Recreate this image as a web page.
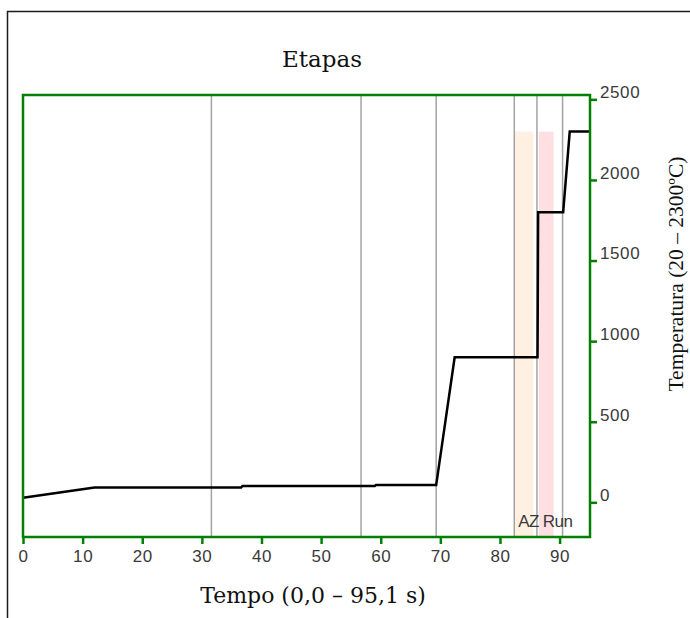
<!DOCTYPE html>
<html>
<head>
<meta charset="utf-8">
<script src="https://cdn.jsdelivr.net/npm/d3@7"></script>
<style>
	body { margin: 0; background: #fff; }
	#chart { width: 690px; height: 618px; }
	.tick-label { font-family: 'Liberation Sans', Arial, sans-serif; font-size: 17px; fill: #3a3a3a; }
	.tick .tick-label { letter-spacing: 0.6px; }
	.title { font-family: 'DejaVu Serif', serif; fill: #111; }
</style>
</head>
<body>
<div id="chart"></div>
<script>
// temperature profile (time in s, temperature in C)
const tempoSeries = [0, 12, 36.6, 36.8, 59.0, 59.2, 69.3, 72.4, 86.3, 86.4, 90.6, 91.7, 95.1];
const temperaturaSeries = [28, 92, 92, 101, 101, 107, 107, 900, 900, 1800, 1800, 2300, 2300];

// stage boundaries (s)
const etapas = [31.6, 56.7, 69.3, 82.4, 86.2, 90.5];

// highlighted stages
const faixaNomes = ['AZ', 'Run'];
const faixaInicio = [82.4, 86.5];
const faixaFim = [85.6, 89.0];
const faixaTopo = [2300, 2300];
const faixaCores = ['#fff0e1', '#ffdfe2'];

const xTicks = [0, 10, 20, 30, 40, 50, 60, 70, 80, 90];
const yTicks = [0, 500, 1000, 1500, 2000, 2500];

const xDomain = [0, 95.1];
const yDomain = [-215, 2527];

const margin = { top: 95, right: 100, bottom: 81, left: 23 };
const width = 690;
const height = 618;
const green = '#008000';

const svg = d3
	.select('#chart')
	.append('svg')
	.attr('width', width)
	.attr('height', height);

const x = d3
	.scaleLinear()
	.domain(xDomain)
	.range([margin.left, width - margin.right]);

const y = d3
	.scaleLinear()
	.domain(yDomain)
	.range([height - margin.bottom, margin.top]);

// outer frame (top and left only)
svg
	.append('path')
	.attr('d', `M7.5,${height} V11.5 H${width}`)
	.attr('fill', 'none')
	.attr('stroke', '#1a1a1a')
	.attr('stroke-width', 1.5);

svg
	.append('text')
	.attr('class', 'title')
	.attr('x', 322)
	.attr('y', 67)
	.attr('text-anchor', 'middle')
	.style('font-size', '23px')
	.text('Etapas');

// stage bands
const faixas = faixaNomes.map((n, i) => ({
	nome: n,
	inicio: faixaInicio[i],
	fim: faixaFim[i],
	topo: faixaTopo[i],
	cor: faixaCores[i],
}));

svg
	.selectAll('.faixa')
	.data(faixas)
	.join('rect')
	.attr('class', 'faixa')
	.attr('x', (d) => x(d.inicio))
	.attr('width', (d) => x(d.fim) - x(d.inicio))
	.attr('y', (d) => y(d.topo))
	.attr('height', (d) => y.range()[0] - y(d.topo))
	.attr('fill', (d) => d.cor);

// stage lines
svg
	.selectAll('.etapa')
	.data(etapas)
	.join('line')
	.attr('class', 'etapa')
	.attr('x1', (d) => x(d))
	.attr('x2', (d) => x(d))
	.attr('y1', margin.top)
	.attr('y2', height - margin.bottom)
	.attr('stroke', '#a3a3a3')
	.attr('stroke-width', 1.5);

// stage labels
svg
	.selectAll('.faixa-label')
	.data(faixas)
	.join('text')
	.attr('class', 'tick-label')
	.attr('x', (d) => x(d.inicio) + 4)
	.attr('y', 527)
	.style('letter-spacing', '-0.5px')
	.text((d) => d.nome);

// temperature line
const pontos = tempoSeries.map((t, i) => ({ t: t, v: temperaturaSeries[i] }));

svg
	.append('path')
	.datum(pontos)
	.attr('fill', 'none')
	.attr('stroke', '#000')
	.attr('stroke-width', 2.5)
	.attr(
		'd',
		d3
			.line()
			.x((d) => x(d.t))
			.y((d) => y(d.v))
	);

// plot frame
svg
	.append('rect')
	.attr('x', margin.left)
	.attr('y', margin.top)
	.attr('width', width - margin.left - margin.right)
	.attr('height', height - margin.top - margin.bottom)
	.attr('fill', 'none')
	.attr('stroke', green)
	.attr('stroke-width', 2.5);

// x axis
const xAxisG = svg
	.append('g')
	.attr('transform', `translate(0,${height - margin.bottom})`)
	.call(
		d3
			.axisBottom(x)
			.tickValues(xTicks)
			.tickFormat(d3.format('d'))
			.tickSize(7)
			.tickSizeOuter(0)
			.tickPadding(6)
	);

xAxisG.select('.domain').remove();
xAxisG.selectAll('.tick line').attr('stroke', green).attr('stroke-width', 2.5);
xAxisG
	.selectAll('.tick text')
	.attr('class', 'tick-label')
	.attr('fill', null)
	.attr('font-family', null)
	.attr('font-size', null);

// y axis on the right
const yAxisG = svg
	.append('g')
	.attr('transform', `translate(${width - margin.right},0)`)
	.call(
		d3
			.axisRight(y)
			.tickValues(yTicks)
			.tickFormat(d3.format('d'))
			.tickSize(7)
			.tickSizeOuter(0)
			.tickPadding(3)
	);

yAxisG.select('.domain').remove();
yAxisG.selectAll('.tick line').attr('stroke', green).attr('stroke-width', 2.5);
yAxisG
	.selectAll('.tick text')
	.attr('class', 'tick-label')
	.attr('fill', null)
	.attr('font-family', null)
	.attr('font-size', null)
	.attr('dy', '-0.1em');

svg
	.append('text')
	.attr('class', 'title')
	.attr('x', 313)
	.attr('y', 603)
	.attr('text-anchor', 'middle')
	.style('font-size', '22px')
	.text('Tempo (0,0 – 95,1 s)');

svg
	.append('text')
	.attr('transform', 'translate(683,274) rotate(-90)')
	.attr('text-anchor', 'middle')
	.style('font-family', "'Liberation Serif', serif")
	.style('font-size', '21.5px')
	.style('fill', '#111')
	.text('Temperatura (20 – 2300ºC)');
</script>
</body>
</html>
